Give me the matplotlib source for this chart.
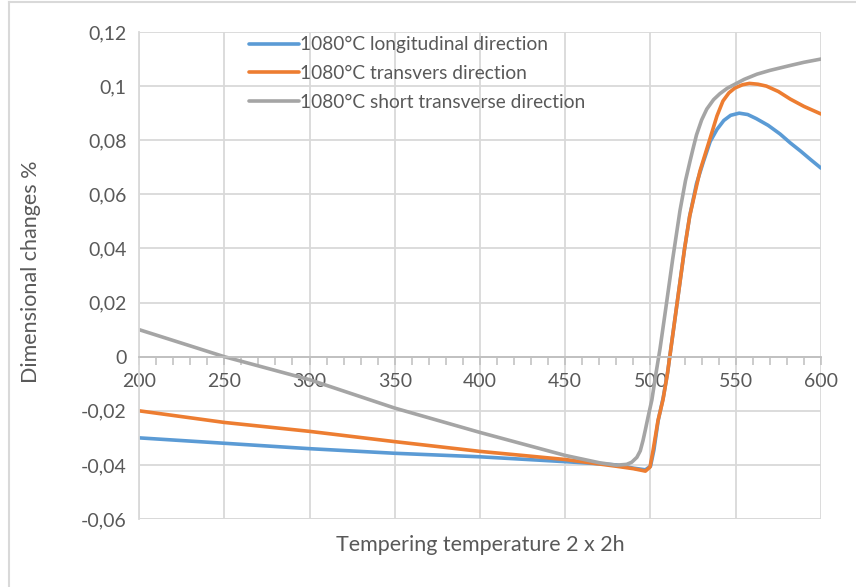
import matplotlib
matplotlib.use("Agg")
import matplotlib.pyplot as plt
from matplotlib.ticker import MultipleLocator

plt.rcParams['font.family'] = ['Lato', 'DejaVu Sans']

# temperature points (deg C) and dimensional change (%)
t_long = [200, 250, 300, 350, 400, 450, 480, 490, 497, 500, 502, 504.5, 507.5, 510, 515,
          520, 523, 527, 531, 535, 539, 543, 547, 552, 557, 562, 569, 576, 582, 588, 594, 600]
d_long = [-0.030, -0.032, -0.034, -0.0357, -0.037, -0.0388, -0.040, -0.0412, -0.0418,
          -0.0405, -0.0345, -0.0236, -0.015, -0.006, 0.017, 0.040, 0.052, 0.064, 0.072,
          0.0795, 0.084, 0.0873, 0.0892, 0.0900, 0.0895, 0.0880, 0.0855, 0.0823, 0.0790,
          0.0760, 0.0728, 0.0697]

t_trans = [200, 250, 300, 350, 400, 450, 480, 490, 494, 497, 499.7, 501.5, 504.4, 507.3,
           510, 515, 520, 523, 529, 535, 539, 542.5, 546, 549.5, 554, 558, 563, 568, 575,
           582, 590, 600]
d_trans = [-0.020, -0.0243, -0.0276, -0.0314, -0.035, -0.038, -0.0405, -0.0414, -0.0419,
           -0.0423, -0.0408, -0.0347, -0.0236, -0.016, -0.006, 0.017, 0.040, 0.052, 0.0686,
           0.0808, 0.089, 0.0945, 0.0975, 0.0993, 0.1005, 0.1010, 0.1007, 0.1000, 0.0980,
           0.0952, 0.0925, 0.0897]

t_short = [200, 250, 300, 350, 400, 450, 470, 480, 486, 489, 492, 494, 495.6, 497, 498.5,
           500.8, 503, 505.6, 509, 513, 517.3, 520.5, 523.2, 525, 527, 530, 533, 537, 540.7,
           545, 549.5, 555, 562.4, 570, 581.8, 590, 600]
d_short = [0.010, 0.000, -0.0085, -0.019, -0.028, -0.0365, -0.0392, -0.0401, -0.0398,
           -0.039, -0.0372, -0.0348, -0.031, -0.027, -0.0225, -0.016, -0.007, 0.003, 0.018,
           0.036, 0.054, 0.065, 0.0723, 0.077, 0.082, 0.0875, 0.0915, 0.0950, 0.0972, 0.0992,
           0.1007, 0.1025, 0.1044, 0.1058, 0.1076, 0.1088, 0.1100]

series_labels = ['1080°C longitudinal direction', '1080°C transvers direction',
                 '1080°C short transverse direction']
y_ticks = [-0.06, -0.04, -0.02, 0, 0.02, 0.04, 0.06, 0.08, 0.1, 0.12]
y_ticklabels = ['-0,06', '-0,04', '-0,02', '0', '0,02', '0,04', '0,06', '0,08', '0,1', '0,12']
x_ticks = [200, 250, 300, 350, 400, 450, 500, 550, 600]

txt = '#595959'
grid = '#d9d9d9'

fig = plt.figure(figsize=(8.56, 5.87), dpi=100)
ax = fig.add_axes([0.1624, 0.1158, 0.7967, 0.8297])

ax.plot(t_long, d_long, color='#5b9bd5', lw=2.6, label=series_labels[0],
        solid_capstyle='round', solid_joinstyle='round')
ax.plot(t_trans, d_trans, color='#ed7d31', lw=2.6, label=series_labels[1],
        solid_capstyle='round', solid_joinstyle='round')
ax.plot(t_short, d_short, color='#a5a5a5', lw=2.6, label=series_labels[2],
        solid_capstyle='round', solid_joinstyle='round')

ax.set_xlim(200, 600)
ax.set_ylim(-0.06, 0.12)
ax.set_xticks(x_ticks)
ax.set_xticklabels([str(v) for v in x_ticks])
ax.xaxis.set_minor_locator(MultipleLocator(10))
ax.set_yticks(y_ticks)
ax.set_yticklabels(y_ticklabels)

ax.grid(True, which='major', color=grid, lw=1.3)
ax.set_axisbelow(True)

for s in ['top', 'right']:
    ax.spines[s].set_visible(False)
ax.spines['left'].set_color(grid)
ax.spines['left'].set_linewidth(1.3)
ax.spines['bottom'].set_position(('data', 0))
ax.spines['bottom'].set_color('#bfbfbf')
ax.spines['bottom'].set_linewidth(1.3)
# bottom border of plot area
ax.axhline(-0.06, color=grid, lw=1.3, zorder=0)

ax.tick_params(axis='x', which='both', direction='out', length=6, color='#bfbfbf',
               labelsize=14, labelcolor=txt, pad=6, width=1.1)
ax.tick_params(axis='y', length=0, labelsize=14, labelcolor=txt, pad=9)

fig.text(0.561, 0.071, 'Tempering temperature 2 x 2h', ha='center', va='center',
         fontsize=15.5, color=txt)
fig.text(0.036, 0.537, 'Dimensional changes %', ha='center', va='center',
         rotation=90, fontsize=15.5, color=txt)

leg = ax.legend(loc='upper left', bbox_to_anchor=(0.145, 1.015), frameon=False,
                fontsize=13.8, handlelength=2.6, handletextpad=0.05, labelspacing=0.62,
                borderaxespad=0.2)
for t in leg.get_texts():
    t.set_color(txt)

# outer chart frame (left and top edges visible in the screenshot)
fig.add_artist(plt.Line2D([9 / 856, 9 / 856], [0, 1 - 2 / 587], color=grid, lw=1.5,
                          transform=fig.transFigure))
fig.add_artist(plt.Line2D([9 / 856, 1], [1 - 2 / 587, 1 - 2 / 587], color=grid, lw=1.5,
                          transform=fig.transFigure))

fig.savefig('out.png', dpi=100)
